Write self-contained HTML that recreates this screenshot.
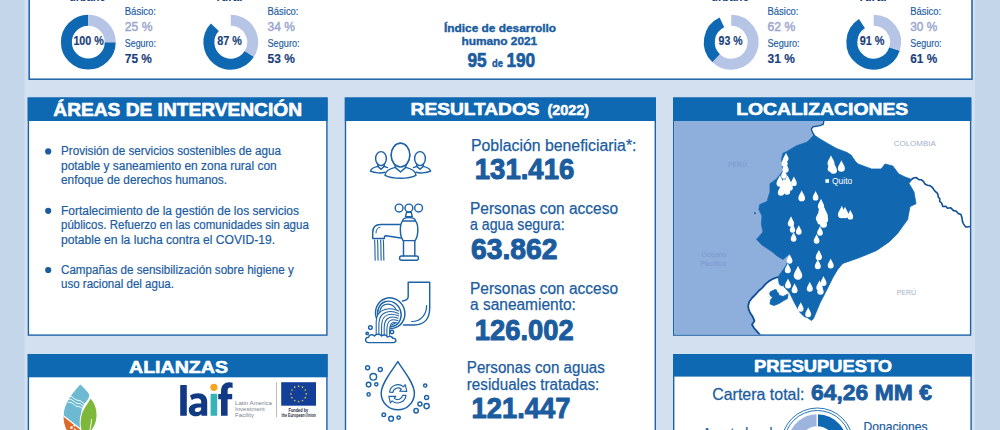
<!DOCTYPE html>
<html lang="es"><head><meta charset="utf-8"><title>Ecuador</title>
<style>
html,body{margin:0;padding:0;background:#c4d7ea;}
body{width:1000px;height:430px;overflow:hidden;font-family:"Liberation Sans",sans-serif;}
svg{display:block}
</style></head><body>
<svg width="1000" height="430" viewBox="0 0 1000 430">
<rect x="0" y="0" width="1000" height="430" fill="#c4d7ea"/>
<rect x="24.5" y="0" width="950.5" height="430" fill="#d2e0f0"/>
<rect x="29.2" y="-10" width="942.8" height="89.2" fill="#fff" stroke="#1c62a8" stroke-width="1.5"/>
<path d="M110.20,42.20 A21.9,21.9 0 1 1 88.30,20.30" fill="none" stroke="#0f68b2" stroke-width="11.0"/>
<path d="M88.30,20.30 A21.9,21.9 0 0 1 110.20,42.20" fill="none" stroke="#b6c4e6" stroke-width="11.0"/>
<text x="73.4" y="45.1" font-size="12" font-weight="bold" fill="#1b3f7c" font-family="'Liberation Sans', sans-serif" textLength="30.5" lengthAdjust="spacingAndGlyphs" stroke="#1b3f7c" stroke-width="0.15" stroke-linejoin="round">100 %</text>
<text x="124.8" y="14.9" font-size="10.3" font-weight="normal" fill="#1b5c9f" font-family="'Liberation Sans', sans-serif" textLength="31.1" lengthAdjust="spacingAndGlyphs" stroke="#1b5c9f" stroke-width="0.16" stroke-linejoin="round">Básico:</text>
<text x="124.8" y="31.0" font-size="12.2" font-weight="normal" fill="#9aa6cf" font-family="'Liberation Sans', sans-serif" textLength="27.6" lengthAdjust="spacingAndGlyphs" stroke="#9aa6cf" stroke-width="0.45" stroke-linejoin="round">25 %</text>
<text x="124.8" y="46.6" font-size="10.3" font-weight="normal" fill="#1b5c9f" font-family="'Liberation Sans', sans-serif" textLength="31.1" lengthAdjust="spacingAndGlyphs" stroke="#1b5c9f" stroke-width="0.16" stroke-linejoin="round">Seguro:</text>
<text x="124.8" y="62.9" font-size="12.2" font-weight="bold" fill="#1b3f7c" font-family="'Liberation Sans', sans-serif" textLength="27.1" lengthAdjust="spacingAndGlyphs" stroke="#1b3f7c" stroke-width="0.15" stroke-linejoin="round">75 %</text>
<path d="M249.29,53.93 A21.9,21.9 0 1 1 214.84,27.21" fill="none" stroke="#0f68b2" stroke-width="11.0"/>
<path d="M230.80,20.30 A21.9,21.9 0 0 1 249.29,53.93" fill="none" stroke="#b6c4e6" stroke-width="11.0"/>
<text x="217.2" y="45.1" font-size="12" font-weight="bold" fill="#1b3f7c" font-family="'Liberation Sans', sans-serif" textLength="24.6" lengthAdjust="spacingAndGlyphs" stroke="#1b3f7c" stroke-width="0.15" stroke-linejoin="round">87 %</text>
<text x="267.5" y="14.9" font-size="10.3" font-weight="normal" fill="#1b5c9f" font-family="'Liberation Sans', sans-serif" textLength="31.0" lengthAdjust="spacingAndGlyphs" stroke="#1b5c9f" stroke-width="0.16" stroke-linejoin="round">Básico:</text>
<text x="267.5" y="31.0" font-size="12.2" font-weight="normal" fill="#9aa6cf" font-family="'Liberation Sans', sans-serif" textLength="27.3" lengthAdjust="spacingAndGlyphs" stroke="#9aa6cf" stroke-width="0.45" stroke-linejoin="round">34 %</text>
<text x="267.5" y="46.6" font-size="10.3" font-weight="normal" fill="#1b5c9f" font-family="'Liberation Sans', sans-serif" textLength="32.1" lengthAdjust="spacingAndGlyphs" stroke="#1b5c9f" stroke-width="0.16" stroke-linejoin="round">Seguro:</text>
<text x="267.5" y="62.9" font-size="12.2" font-weight="bold" fill="#1b3f7c" font-family="'Liberation Sans', sans-serif" textLength="27.3" lengthAdjust="spacingAndGlyphs" stroke="#1b3f7c" stroke-width="0.15" stroke-linejoin="round">53 %</text>
<path d="M716.21,58.16 A21.9,21.9 0 0 1 721.88,22.38" fill="none" stroke="#0f68b2" stroke-width="11.0"/>
<path d="M731.20,20.30 A21.9,21.9 0 1 1 716.21,58.16" fill="none" stroke="#b6c4e6" stroke-width="11.0"/>
<text x="718.5" y="45.1" font-size="12" font-weight="bold" fill="#1b3f7c" font-family="'Liberation Sans', sans-serif" textLength="24.1" lengthAdjust="spacingAndGlyphs" stroke="#1b3f7c" stroke-width="0.15" stroke-linejoin="round">93 %</text>
<text x="767.5" y="14.9" font-size="10.3" font-weight="normal" fill="#1b5c9f" font-family="'Liberation Sans', sans-serif" textLength="31.0" lengthAdjust="spacingAndGlyphs" stroke="#1b5c9f" stroke-width="0.16" stroke-linejoin="round">Básico:</text>
<text x="767.5" y="31.0" font-size="12.2" font-weight="normal" fill="#9aa6cf" font-family="'Liberation Sans', sans-serif" textLength="27.7" lengthAdjust="spacingAndGlyphs" stroke="#9aa6cf" stroke-width="0.45" stroke-linejoin="round">62 %</text>
<text x="767.5" y="46.6" font-size="10.3" font-weight="normal" fill="#1b5c9f" font-family="'Liberation Sans', sans-serif" textLength="32.1" lengthAdjust="spacingAndGlyphs" stroke="#1b5c9f" stroke-width="0.16" stroke-linejoin="round">Seguro:</text>
<text x="767.5" y="62.9" font-size="12.2" font-weight="bold" fill="#1b3f7c" font-family="'Liberation Sans', sans-serif" textLength="27.3" lengthAdjust="spacingAndGlyphs" stroke="#1b3f7c" stroke-width="0.15" stroke-linejoin="round">31 %</text>
<path d="M894.53,48.97 A21.9,21.9 0 1 1 861.97,23.71" fill="none" stroke="#0f68b2" stroke-width="11.0"/>
<path d="M873.70,20.30 A21.9,21.9 0 0 1 894.53,48.97" fill="none" stroke="#b6c4e6" stroke-width="11.0"/>
<text x="859.7" y="45.1" font-size="12" font-weight="bold" fill="#1b3f7c" font-family="'Liberation Sans', sans-serif" textLength="24.9" lengthAdjust="spacingAndGlyphs" stroke="#1b3f7c" stroke-width="0.15" stroke-linejoin="round">91 %</text>
<text x="910.3" y="14.9" font-size="10.3" font-weight="normal" fill="#1b5c9f" font-family="'Liberation Sans', sans-serif" textLength="30.7" lengthAdjust="spacingAndGlyphs" stroke="#1b5c9f" stroke-width="0.16" stroke-linejoin="round">Básico:</text>
<text x="910.3" y="31.0" font-size="12.2" font-weight="normal" fill="#9aa6cf" font-family="'Liberation Sans', sans-serif" textLength="26.9" lengthAdjust="spacingAndGlyphs" stroke="#9aa6cf" stroke-width="0.45" stroke-linejoin="round">30 %</text>
<text x="910.3" y="46.6" font-size="10.3" font-weight="normal" fill="#1b5c9f" font-family="'Liberation Sans', sans-serif" textLength="31.3" lengthAdjust="spacingAndGlyphs" stroke="#1b5c9f" stroke-width="0.16" stroke-linejoin="round">Seguro:</text>
<text x="910.3" y="62.9" font-size="12.2" font-weight="bold" fill="#1b3f7c" font-family="'Liberation Sans', sans-serif" textLength="26.9" lengthAdjust="spacingAndGlyphs" stroke="#1b3f7c" stroke-width="0.15" stroke-linejoin="round">61 %</text>
<text x="69.0" y="1.3" font-size="12.5" font-weight="bold" fill="#1b3f7c" font-family="'Liberation Sans', sans-serif" textLength="37.0" lengthAdjust="spacingAndGlyphs">urbano</text>
<text x="216.6" y="1.3" font-size="12.5" font-weight="bold" fill="#1b3f7c" font-family="'Liberation Sans', sans-serif" textLength="25.8" lengthAdjust="spacingAndGlyphs">rural</text>
<text x="711.0" y="1.3" font-size="12.5" font-weight="bold" fill="#1b3f7c" font-family="'Liberation Sans', sans-serif" textLength="38.4" lengthAdjust="spacingAndGlyphs">urbano</text>
<text x="859.4" y="1.3" font-size="12.5" font-weight="bold" fill="#1b3f7c" font-family="'Liberation Sans', sans-serif" textLength="27.2" lengthAdjust="spacingAndGlyphs">rural</text>
<text x="444.0" y="32.2" font-size="10.5" font-weight="bold" fill="#1b5c9f" font-family="'Liberation Sans', sans-serif" textLength="112.1" lengthAdjust="spacingAndGlyphs" stroke="#1b5c9f" stroke-width="0.37" stroke-linejoin="round">Índice de desarrollo</text>
<text x="461.4" y="44.5" font-size="10.5" font-weight="bold" fill="#1b5c9f" font-family="'Liberation Sans', sans-serif" textLength="75.8" lengthAdjust="spacingAndGlyphs" stroke="#1b5c9f" stroke-width="0.37" stroke-linejoin="round">humano 2021</text>
<text x="467.4" y="66.5" font-size="19.8" font-weight="bold" fill="#1b5c9f" font-family="'Liberation Sans', sans-serif" textLength="19.2" lengthAdjust="spacingAndGlyphs" stroke="#1b5c9f" stroke-width="0.69" stroke-linejoin="round">95</text>
<text x="492.0" y="66.5" font-size="11" font-weight="bold" fill="#1b5c9f" font-family="'Liberation Sans', sans-serif" textLength="11.0" lengthAdjust="spacingAndGlyphs" stroke="#1b5c9f" stroke-width="0.39" stroke-linejoin="round">de</text>
<text x="506.4" y="66.5" font-size="19.8" font-weight="bold" fill="#1b5c9f" font-family="'Liberation Sans', sans-serif" textLength="28.8" lengthAdjust="spacingAndGlyphs" stroke="#1b5c9f" stroke-width="0.69" stroke-linejoin="round">190</text>
<rect x="28.4" y="98.2" width="298.50000000000006" height="236.9" fill="#fff" stroke="#1c62a8" stroke-width="1.4"/>
<rect x="27.7" y="97.5" width="299.90000000000003" height="23.5" fill="#0f68b2"/>
<rect x="345.5" y="98.2" width="309.8" height="341.1" fill="#fff" stroke="#1c62a8" stroke-width="1.4"/>
<rect x="344.8" y="97.5" width="311.2" height="23.5" fill="#0f68b2"/>
<rect x="673.7" y="98.2" width="296.9" height="236.9" fill="#fff" stroke="#1c62a8" stroke-width="1.4"/>
<rect x="673" y="97.5" width="298.29999999999995" height="23.5" fill="#0f68b2"/>
<rect x="28.4" y="354.7" width="298.50000000000006" height="84.6" fill="#fff" stroke="#1c62a8" stroke-width="1.4"/>
<rect x="27.7" y="354" width="299.90000000000003" height="23.30000000000001" fill="#0f68b2"/>
<rect x="673.7" y="354.7" width="297.4" height="84.6" fill="#fff" stroke="#1c62a8" stroke-width="1.4"/>
<rect x="673" y="354" width="298.79999999999995" height="22.600000000000023" fill="#0f68b2"/>
<text x="53.3" y="115.7" font-size="18.6" font-weight="bold" fill="#fff" font-family="'Liberation Sans', sans-serif" textLength="248.7" lengthAdjust="spacingAndGlyphs" stroke="#fff" stroke-width="0.65" stroke-linejoin="round">ÁREAS DE INTERVENCIÓN</text>
<text x="410.6" y="115.2" font-size="16.5" font-weight="bold" fill="#fff" font-family="'Liberation Sans', sans-serif" textLength="129.0" lengthAdjust="spacingAndGlyphs" stroke="#fff" stroke-width="0.58" stroke-linejoin="round">RESULTADOS</text>
<text x="547.4" y="115.4" font-size="14.6" font-weight="bold" fill="#fff" font-family="'Liberation Sans', sans-serif" textLength="41.6" lengthAdjust="spacingAndGlyphs" stroke="#fff" stroke-width="0.51" stroke-linejoin="round">(2022)</text>
<text x="736.2" y="115.2" font-size="16.5" font-weight="bold" fill="#fff" font-family="'Liberation Sans', sans-serif" textLength="172.1" lengthAdjust="spacingAndGlyphs" stroke="#fff" stroke-width="0.58" stroke-linejoin="round">LOCALIZACIONES</text>
<text x="129.0" y="372.6" font-size="17" font-weight="bold" fill="#fff" font-family="'Liberation Sans', sans-serif" textLength="99.0" lengthAdjust="spacingAndGlyphs" stroke="#fff" stroke-width="0.60" stroke-linejoin="round">ALIANZAS</text>
<text x="754.0" y="372.3" font-size="17" font-weight="bold" fill="#fff" font-family="'Liberation Sans', sans-serif" textLength="138.0" lengthAdjust="spacingAndGlyphs" stroke="#fff" stroke-width="0.60" stroke-linejoin="round">PRESUPUESTO</text>
<text x="61.0" y="155.3" font-size="12.5" font-weight="normal" fill="#1b5c9f" font-family="'Liberation Sans', sans-serif" textLength="220.0" lengthAdjust="spacingAndGlyphs" stroke="#1b5c9f" stroke-width="0.20" stroke-linejoin="round">Provisión de servicios sostenibles de agua</text>
<text x="61.0" y="169.7" font-size="12.5" font-weight="normal" fill="#1b5c9f" font-family="'Liberation Sans', sans-serif" textLength="215.7" lengthAdjust="spacingAndGlyphs" stroke="#1b5c9f" stroke-width="0.20" stroke-linejoin="round">potable y saneamiento en zona rural con</text>
<text x="61.0" y="183.6" font-size="12.5" font-weight="normal" fill="#1b5c9f" font-family="'Liberation Sans', sans-serif" textLength="166.0" lengthAdjust="spacingAndGlyphs" stroke="#1b5c9f" stroke-width="0.20" stroke-linejoin="round">enfoque de derechos humanos.</text>
<text x="61.0" y="214.8" font-size="12.5" font-weight="normal" fill="#1b5c9f" font-family="'Liberation Sans', sans-serif" textLength="238.0" lengthAdjust="spacingAndGlyphs" stroke="#1b5c9f" stroke-width="0.20" stroke-linejoin="round">Fortalecimiento de la gestión de los servicios</text>
<text x="61.0" y="229.1" font-size="12.5" font-weight="normal" fill="#1b5c9f" font-family="'Liberation Sans', sans-serif" textLength="247.8" lengthAdjust="spacingAndGlyphs" stroke="#1b5c9f" stroke-width="0.20" stroke-linejoin="round">públicos. Refuerzo en las comunidades sin agua</text>
<text x="61.0" y="243.5" font-size="12.5" font-weight="normal" fill="#1b5c9f" font-family="'Liberation Sans', sans-serif" textLength="214.0" lengthAdjust="spacingAndGlyphs" stroke="#1b5c9f" stroke-width="0.20" stroke-linejoin="round">potable en la lucha contra el COVID-19.</text>
<text x="61.0" y="274.1" font-size="12.5" font-weight="normal" fill="#1b5c9f" font-family="'Liberation Sans', sans-serif" textLength="232.7" lengthAdjust="spacingAndGlyphs" stroke="#1b5c9f" stroke-width="0.20" stroke-linejoin="round">Campañas de sensibilización sobre higiene y</text>
<text x="61.0" y="288.2" font-size="12.5" font-weight="normal" fill="#1b5c9f" font-family="'Liberation Sans', sans-serif" textLength="113.0" lengthAdjust="spacingAndGlyphs" stroke="#1b5c9f" stroke-width="0.20" stroke-linejoin="round">uso racional del agua.</text>
<circle cx="48.2" cy="151.4" r="3.1" fill="#1b5c9f"/>
<circle cx="48.2" cy="210.8" r="3.1" fill="#1b5c9f"/>
<circle cx="48.2" cy="270.0" r="3.1" fill="#1b5c9f"/>
<text x="471.0" y="151.0" font-size="15.8" font-weight="normal" fill="#1b5c9f" font-family="'Liberation Sans', sans-serif" textLength="165.5" lengthAdjust="spacingAndGlyphs" stroke="#1b5c9f" stroke-width="0.25" stroke-linejoin="round">Población beneficiaria*:</text>
<text x="474.8" y="179.2" font-size="29.4" font-weight="bold" fill="#1b5c9f" font-family="'Liberation Sans', sans-serif" textLength="99.5" lengthAdjust="spacingAndGlyphs" stroke="#1b5c9f" stroke-width="1.03" stroke-linejoin="round">131.416</text>
<text x="470.0" y="213.7" font-size="15.8" font-weight="normal" fill="#1b5c9f" font-family="'Liberation Sans', sans-serif" textLength="148.0" lengthAdjust="spacingAndGlyphs" stroke="#1b5c9f" stroke-width="0.25" stroke-linejoin="round">Personas con acceso</text>
<text x="470.0" y="229.8" font-size="15.8" font-weight="normal" fill="#1b5c9f" font-family="'Liberation Sans', sans-serif" textLength="94.6" lengthAdjust="spacingAndGlyphs" stroke="#1b5c9f" stroke-width="0.25" stroke-linejoin="round">a agua segura:</text>
<text x="471.0" y="259.4" font-size="29.4" font-weight="bold" fill="#1b5c9f" font-family="'Liberation Sans', sans-serif" textLength="86.6" lengthAdjust="spacingAndGlyphs" stroke="#1b5c9f" stroke-width="1.03" stroke-linejoin="round">63.862</text>
<text x="470.0" y="294.0" font-size="15.8" font-weight="normal" fill="#1b5c9f" font-family="'Liberation Sans', sans-serif" textLength="148.0" lengthAdjust="spacingAndGlyphs" stroke="#1b5c9f" stroke-width="0.25" stroke-linejoin="round">Personas con acceso</text>
<text x="470.0" y="309.8" font-size="15.8" font-weight="normal" fill="#1b5c9f" font-family="'Liberation Sans', sans-serif" textLength="105.9" lengthAdjust="spacingAndGlyphs" stroke="#1b5c9f" stroke-width="0.25" stroke-linejoin="round">a saneamiento:</text>
<text x="474.8" y="339.5" font-size="29.4" font-weight="bold" fill="#1b5c9f" font-family="'Liberation Sans', sans-serif" textLength="98.8" lengthAdjust="spacingAndGlyphs" stroke="#1b5c9f" stroke-width="1.03" stroke-linejoin="round">126.002</text>
<text x="466.8" y="372.9" font-size="15.8" font-weight="normal" fill="#1b5c9f" font-family="'Liberation Sans', sans-serif" textLength="138.0" lengthAdjust="spacingAndGlyphs" stroke="#1b5c9f" stroke-width="0.25" stroke-linejoin="round">Personas con aguas</text>
<text x="466.8" y="389.9" font-size="15.8" font-weight="normal" fill="#1b5c9f" font-family="'Liberation Sans', sans-serif" textLength="132.5" lengthAdjust="spacingAndGlyphs" stroke="#1b5c9f" stroke-width="0.25" stroke-linejoin="round">residuales tratadas:</text>
<text x="471.6" y="417.8" font-size="29.4" font-weight="bold" fill="#1b5c9f" font-family="'Liberation Sans', sans-serif" textLength="98.8" lengthAdjust="spacingAndGlyphs" stroke="#1b5c9f" stroke-width="1.03" stroke-linejoin="round">121.447</text>
<g id="icons" fill="none" stroke="#1c62a8" stroke-width="1.45" stroke-linecap="round" stroke-linejoin="round">
<ellipse cx="381.0" cy="158.6" rx="5.4" ry="7"/>
<path d="M377.8,164.6 L377.8,166.4 C373.0,167.5 370.7,169.5 370.4,171.2 C375.0,173.3 382.0,173.3 385.0,172.2"/>
<path d="M377.8,166.4 L381.0,169.2 L384.2,166.4"/>
<path d="M384.2,164.6 L384.2,166.4 L387.5,167.6"/>
<ellipse cx="420.0" cy="158.6" rx="5.4" ry="7"/>
<path d="M423.2,164.6 L423.2,166.4 C428.0,167.5 430.3,169.5 430.6,171.2 C426.0,173.3 419.0,173.3 416.0,172.2"/>
<path d="M416.8,166.4 L420.0,169.2 L423.2,166.4"/>
<path d="M416.8,164.6 L416.8,166.4 L413.5,167.6"/>
<ellipse cx="400.5" cy="155.1" rx="9.3" ry="11.9" fill="#fff"/>
<path d="M395.2,165 L395.2,167.4 C388,169 385.3,172 385,175.4 C392,179.3 409,179.3 416,175.4 C415.7,172 413,169 405.8,167.4 L405.8,165" fill="#fff"/>
<path d="M395.2,167.4 L400.5,172 L405.8,167.4"/>
<ellipse cx="400.5" cy="155.1" rx="9.3" ry="11.9" fill="#fff"/>
<circle cx="399.1" cy="208" r="3.9"/>
<circle cx="408.9" cy="208" r="3.9"/>
<circle cx="418.6" cy="208" r="3.9"/>
<path d="M406.6,212.2 L411.2,212.2 L412.3,216.8 L405.5,216.8 Z" fill="#fff"/>
<path d="M402.7,221 C402.7,218.2 404.5,217.6 408.9,217.6 C413.3,217.6 415.4,218.2 415.4,221"/>
<path d="M402.7,221 C399.5,224 399.5,236 403.2,240.6 L415,240.6 C418.7,236 418.7,224 415.4,221 Z"/>
<path d="M403.5,240.6 L403.5,256 M414.8,240.6 L414.8,256"/>
<rect x="399.6" y="256" width="18.8" height="4.2" rx="2"/>
<path d="M400.3,224.4 L380.5,224.4 C375,224.4 372.7,228 372.7,232.5 L372.7,238.4 L384.4,238.4 L384.4,237 C384.4,236 385,235.7 386,235.7 L400.6,238"/>
<path d="M376,233 C376,229.5 377.5,227.6 380,227.2" stroke-width="1"/>
<path d="M374.6,240 C375.2,247 374.8,254 375.2,260.2 M377.5,240 C378.1,247 377.7,254 378.1,260.2 M380.6,240 C381.2,247 380.8,254 381.2,260.2 M383.3,240 C383.9,247 383.5,254 383.9,260.2" stroke-width="1.1"/>
<path d="M402.5,301 C406.5,300.5 408.2,299.5 408.2,296.5 L408.2,282.2 L429.7,282.2 L429.7,308 C429.7,319 424,325 414,325 L403.5,325"/>
<path d="M426.6,305.5 C426.6,315 420.5,321.5 411.7,321.5" stroke-width="1.2"/>
<g transform="rotate(-20 390.2 313.2)">
<ellipse cx="390.2" cy="313.2" rx="14.6" ry="15.4" fill="#fff"/>
<ellipse cx="389.2" cy="313.6" rx="11.6" ry="12.9"/>
<ellipse cx="388.4" cy="314" rx="9" ry="10.6" stroke-width="1.1"/>
</g>
<path d="M398.6,311 C393,307 377,307 376.2,322 L376.2,335 L389.6,335 L389.6,328 C389.8,324.5 393,322.4 397.6,323 Z" fill="#fff" stroke="none"/>
<path d="M398.6,311.0 C391.6,307.4 376.6,307.0 376.2,321.4 L376.2,335.2" stroke-width="1.05"/>
<path d="M398.4,313.4 C391.8,310.3 379.3,309.9 378.9,323.3 L378.9,335.2" stroke-width="1.05"/>
<path d="M398.2,315.8 C392.0,313.2 382.0,312.8 381.6,325.2 L381.6,335.2" stroke-width="1.05"/>
<path d="M398.0,318.2 C392.2,316.2 384.6,315.8 384.2,327.2 L384.2,335.2" stroke-width="1.05"/>
<path d="M397.8,320.6 C392.4,319.1 387.3,318.7 386.9,329.1 L386.9,335.2" stroke-width="1.05"/>
<path d="M397.6,323.0 C392.6,322.0 390.0,321.6 389.6,331.0 L389.6,335.2" stroke-width="1.05"/>
<path d="M368.5,342.6 C364.6,342.6 364.6,337 368.6,337.2 C369,334.4 373,334 374.5,336 C376,333.6 380.2,333.6 381.5,336 C383.4,334.4 386.6,334.8 387.4,337 C389.4,335.8 392.4,336.4 392.6,338.2 C396.6,337.6 397,342.6 393.4,342.6 Z" fill="#fff"/>
<circle cx="370.4" cy="327.6" r="1.8"/><circle cx="367.2" cy="333.4" r="1.2"/><circle cx="392" cy="332" r="1.7"/>
<path d="M397.8,361.6 C403,370 414.4,383 414.4,393.2 A16.6,16.6 0 1 1 381.2,393.2 C381.2,383 392.6,370 397.8,361.6 Z"/>
<g stroke-width="1.1">
<path d="M389.6,392.2 A8.4,8.4 0 0 1 403.5,386.8 L405.2,384.6 L406.8,391.4 L399.8,391.2 L401.4,389.2 A5.2,5.2 0 0 0 392.9,392.4 Z" fill="#fff"/>
<path d="M406.0,395.4 A8.4,8.4 0 0 1 392.1,400.8 L390.4,403 L388.8,396.2 L395.8,396.4 L394.2,398.4 A5.2,5.2 0 0 0 402.7,395.2 Z" fill="#fff"/>
</g>
<circle cx="367.6" cy="367.7" r="2"/>
<circle cx="380.3" cy="369.5" r="2"/>
<circle cx="373.3" cy="376.8" r="3.3"/>
<circle cx="368.6" cy="384.6" r="2.3"/>
<circle cx="376.3" cy="384.3" r="1.6"/>
<circle cx="368.6" cy="394.4" r="1.6"/>
<circle cx="425.2" cy="385.5" r="1.6"/>
<circle cx="426.6" cy="397.4" r="2"/>
<circle cx="419.9" cy="404" r="2"/>
<circle cx="426.6" cy="406.1" r="2.6"/>
<circle cx="416.1" cy="410.8" r="2.2"/>
<circle cx="383.8" cy="414.8" r="1.8"/>
<circle cx="391.1" cy="418.7" r="2.4"/>
<circle cx="398.6" cy="417.6" r="1.7"/>
</g>
<g id="map">
<clipPath id="mapclip"><rect x="674.4" y="121" width="295.5" height="213.4"/></clipPath>
<g clip-path="url(#mapclip)">
<polygon points="670.0,118.0 824.0,120.0 823.3,124.4 820.0,125.7 813.0,126.8 811.3,129.2 813.0,133.2 814.5,135.7 814.0,135.0 807.3,142.0 796.0,146.0 786.4,151.7 783.0,153.2 781.4,159.6 783.0,170.9 776.5,178.9 770.0,183.7 770.0,191.7 767.0,201.4 759.7,204.6 758.9,209.5 762.0,216.0 761.3,224.0 763.0,232.0 756.5,239.3 762.0,245.0 771.7,251.4 777.4,256.2 783.0,259.5 788.6,254.5 790.0,257.0 786.0,265.5 781.5,272.0 778.0,277.0 778.0,277.0 773.0,278.8 769.0,281.1 765.5,284.2 762.2,287.9 758.6,291.0 755.4,294.7 752.0,298.0 749.4,301.5 748.2,305.5 748.6,309.2 750.2,313.0 752.8,316.8 754.5,321.0 752.0,324.5 754.0,328.0 757.0,331.3 760.5,335.5 763.0,340.0 670.0,340.0" fill="#8eaedc"/>
<polygon points="814.0,135.0 807.3,142.0 796.0,146.0 786.4,151.7 783.0,153.2 781.4,159.6 783.0,170.9 776.5,178.9 770.0,183.7 770.0,191.7 767.0,201.4 759.7,204.6 758.9,209.5 762.0,216.0 761.3,224.0 763.0,232.0 756.5,239.3 762.0,245.0 771.7,251.4 777.4,256.2 783.0,259.5 788.6,254.5 790.0,257.0 786.0,265.5 781.5,272.0 778.0,277.0 779.3,284.5 785.0,287.7 789.8,293.3 794.6,303.0 800.0,312.5 804.0,316.5 807.5,317.7 811.5,320.6 813.5,318.5 815.4,314.0 820.0,303.0 826.7,290.0 833.0,277.3 838.0,269.0 842.8,263.4 858.9,257.8 876.5,250.6 889.4,241.7 897.4,233.7 907.8,219.3 908.0,217.0 910.0,206.6 916.0,203.7 914.0,192.0 909.0,183.4 912.0,179.6 905.0,177.0 898.6,173.8 892.8,166.0 885.0,164.0 881.2,169.0 871.6,169.0 863.5,166.0 858.0,164.0 855.5,161.5 851.0,155.0 847.0,152.5 836.5,148.5 828.0,143.7 820.0,139.0" fill="#1167b0" stroke="#1167b0" stroke-width="0.8" stroke-linejoin="round"/>
<polygon points="770.0,292.0 775.0,289.5 779.0,291.0 778.5,295.0 783.0,296.5 788.0,294.0 787.5,298.5 783.0,301.0 779.0,303.5 774.0,305.5 770.0,304.0 770.5,300.0 772.5,297.5 769.8,295.0" fill="#1167b0" stroke="#1167b0" stroke-width="0.8" stroke-linejoin="round"/>
<polyline points="824.0,120.0 823.3,124.4 820.0,125.7 813.0,126.8 811.3,129.2 813.0,133.2 814.5,135.7" fill="none" stroke="#0f4f96" stroke-width="1.3"/>
<polyline points="778.0,277.0 773.0,278.8 769.0,281.1 765.5,284.2 762.2,287.9 758.6,291.0 755.4,294.7 752.0,298.0 749.4,301.5 748.2,305.5 748.6,309.2 750.2,313.0 752.8,316.8 754.5,321.0 752.0,324.5 754.0,328.0 757.0,331.3 760.5,335.5 763.0,340.0" fill="none" stroke="#0f4f96" stroke-width="1.8" stroke-linejoin="round"/>
<polyline points="911.5,179.5 913.5,178.0 916.0,177.5 919.0,179.6 921.5,179.8 923.6,181.6 925.0,184.0 927.4,185.2 930.0,185.6 932.6,187.7 934.5,190.6 937.7,193.6 938.3,197.0 939.9,199.0 939.7,201.3 941.6,203.0 942.8,206.5 946.0,206.4 947.5,208.2 950.5,207.7 953.5,210.6 956.0,211.0 958.2,213.4 961.0,214.6 962.0,218.0 962.4,221.0 963.3,223.6 965.4,226.6 967.2,227.0 972.0,226.2" fill="none" stroke="#0f4f96" stroke-width="1.6" stroke-linejoin="round"/>
<circle cx="754.9" cy="213.2" r="0.9" fill="#0f4f96"/>
<text x="893.8" y="146.3" font-size="7.6" font-weight="normal" fill="#a3afc8" font-family="'Liberation Sans',sans-serif" textLength="41.9" lengthAdjust="spacingAndGlyphs">COLOMBIA</text>
<text x="728" y="167.3" font-size="7.6" font-weight="normal" fill="#7b98cf" font-family="'Liberation Sans',sans-serif" textLength="18.8" lengthAdjust="spacingAndGlyphs">PERÚ</text>
<text x="701.5" y="257.2" font-size="7.2" font-weight="normal" fill="#7b98cf" font-family="'Liberation Sans',sans-serif" textLength="25.1" lengthAdjust="spacingAndGlyphs">Océano</text>
<text x="700.3" y="266.2" font-size="7.2" font-weight="normal" fill="#7b98cf" font-family="'Liberation Sans',sans-serif" textLength="25.7" lengthAdjust="spacingAndGlyphs">Pacífico</text>
<text x="896.7" y="295" font-size="7.6" font-weight="normal" fill="#a3afc8" font-family="'Liberation Sans',sans-serif" textLength="19.3" lengthAdjust="spacingAndGlyphs">PERÚ</text>
<defs><path id="dp" d="M0,-8.6 C0.9,-6.2 2.7,-4.2 2.7,-2.4 A2.7,2.7 0 1 1 -2.7,-2.4 C-2.7,-4.2 -0.9,-6.2 0,-8.6Z"/></defs>
<use href="#dp" transform="translate(784.5,166.4) scale(1.18)" fill="#fff"/>
<use href="#dp" transform="translate(785.5,172.4) scale(1.18)" fill="#fff"/>
<use href="#dp" transform="translate(786,160.9) scale(0.94)" fill="#fff"/>
<use href="#dp" transform="translate(784,178.4) scale(1.06)" fill="#fff"/>
<use href="#dp" transform="translate(780,186.4) scale(1.30)" fill="#fff"/>
<use href="#dp" transform="translate(784,190.4) scale(1.42)" fill="#fff"/>
<use href="#dp" transform="translate(787.5,186.4) scale(1.30)" fill="#fff"/>
<use href="#dp" transform="translate(781,195.4) scale(1.18)" fill="#fff"/>
<use href="#dp" transform="translate(787,194.4) scale(1.18)" fill="#fff"/>
<use href="#dp" transform="translate(790,190.4) scale(1.06)" fill="#fff"/>
<use href="#dp" transform="translate(793.9,185.70000000000002) scale(1.06)" fill="#fff"/>
<use href="#dp" transform="translate(801.7,201.0) scale(1.24)" fill="#fff"/>
<use href="#dp" transform="translate(815.6,200.20000000000002) scale(1.06)" fill="#fff"/>
<use href="#dp" transform="translate(821,209.0) scale(1.18)" fill="#fff"/>
<use href="#dp" transform="translate(822,214.4) scale(1.30)" fill="#fff"/>
<use href="#dp" transform="translate(824,219.4) scale(1.42)" fill="#fff"/>
<use href="#dp" transform="translate(821,224.4) scale(1.42)" fill="#fff"/>
<use href="#dp" transform="translate(823.5,227.4) scale(1.30)" fill="#fff"/>
<use href="#dp" transform="translate(819,221.4) scale(1.18)" fill="#fff"/>
<use href="#dp" transform="translate(825,222.4) scale(1.18)" fill="#fff"/>
<use href="#dp" transform="translate(820,235.4) scale(1.06)" fill="#fff"/>
<use href="#dp" transform="translate(816.6,243.4) scale(1.06)" fill="#fff"/>
<use href="#dp" transform="translate(819,259.4) scale(1.06)" fill="#fff"/>
<use href="#dp" transform="translate(831,166.4) scale(1.30)" fill="#fff"/>
<use href="#dp" transform="translate(833.5,173.4) scale(1.30)" fill="#fff"/>
<use href="#dp" transform="translate(830.5,171.4) scale(1.06)" fill="#fff"/>
<use href="#dp" transform="translate(841.4,171.4) scale(1.30)" fill="#fff"/>
<use href="#dp" transform="translate(841.8,217.9) scale(1.42)" fill="#fff"/>
<use href="#dp" transform="translate(845,217.9) scale(1.30)" fill="#fff"/>
<use href="#dp" transform="translate(850.3,219.20000000000002) scale(1.06)" fill="#fff"/>
<use href="#dp" transform="translate(791,226.4) scale(1.18)" fill="#fff"/>
<use href="#dp" transform="translate(792.5,232.4) scale(1.00)" fill="#fff"/>
<use href="#dp" transform="translate(798.8,234.4) scale(1.06)" fill="#fff"/>
<use href="#dp" transform="translate(793.6,241.4) scale(1.06)" fill="#fff"/>
<use href="#dp" transform="translate(789.6,263.4) scale(1.06)" fill="#fff"/>
<use href="#dp" transform="translate(787.8,272.9) scale(1.12)" fill="#fff"/>
<use href="#dp" transform="translate(798,279.29999999999995) scale(1.59)" fill="#fff"/>
<use href="#dp" transform="translate(818.7,260.0) scale(1.12)" fill="#fff"/>
<use href="#dp" transform="translate(817.8,268.9) scale(1.12)" fill="#fff"/>
<use href="#dp" transform="translate(830.7,268.09999999999997) scale(1.12)" fill="#fff"/>
<use href="#dp" transform="translate(788,288.09999999999997) scale(1.12)" fill="#fff"/>
<use href="#dp" transform="translate(794.6,292.9) scale(1.12)" fill="#fff"/>
<use href="#dp" transform="translate(809.8,291.4) scale(1.12)" fill="#fff"/>
<use href="#dp" transform="translate(823.5,285.7) scale(1.12)" fill="#fff"/>
<use href="#dp" transform="translate(819.5,290.4) scale(1.18)" fill="#fff"/>
<use href="#dp" transform="translate(820.5,294.4) scale(1.18)" fill="#fff"/>
<use href="#dp" transform="translate(800.7,311.4) scale(1.06)" fill="#fff"/>
<use href="#dp" transform="translate(808.2,317.0) scale(1.12)" fill="#fff"/>
<use href="#dp" transform="translate(783,294.4) scale(1.06)" fill="#fff"/>
<use href="#dp" transform="translate(779.5,292.4) scale(0.94)" fill="#fff"/>
<rect x="825.4" y="179.2" width="3.6" height="3.6" fill="#fff"/>
<text x="832" y="184.3" font-size="9.4" font-weight="normal" fill="#fff" font-family="'Liberation Sans',sans-serif" textLength="20.3" lengthAdjust="spacingAndGlyphs">Quito</text>
</g></g>
<g id="logos">
<rect x="180.2" y="385" width="6.6" height="30.8" rx="0.6" fill="#123a84"/>
<path d="M198.2,393.2 C203.6,393.2 207.2,396.2 207.2,401.6 L207.2,415.8 L201.4,415.8 L201.4,414 C200,415.5 198,416.3 195.6,416.3 C191.6,416.3 188.8,413.8 188.8,410 C188.8,405.6 192.4,403.4 198,403.4 L201.2,403.4 L201.2,402 C201.2,399.6 199.8,398.3 197.4,398.3 C195.4,398.3 193.6,399 191.8,400.2 L190,395.6 C192.4,394 195.2,393.2 198.2,393.2 Z M201.2,407.4 L198.8,407.4 C196.2,407.4 194.8,408.3 194.8,409.9 C194.8,411.3 195.9,412.1 197.4,412.1 C199.6,412.1 201.2,410.7 201.2,408.6 Z" fill="#123a84" fill-rule="evenodd"/>
<rect x="210.6" y="393.8" width="6.6" height="22" rx="0.6" fill="#36b3b7"/>
<circle cx="213.9" cy="387.3" r="3.6" fill="#f4a51f"/>
<path d="M221,415.8 L221,399.2 L218.2,399.2 L218.2,394 L221,394 L221,391.4 C221,385.6 224,382.2 229.4,382.2 C230.6,382.2 231.8,382.4 232.6,382.7 L232.6,388 C231.9,387.8 231.2,387.6 230.4,387.6 C228.4,387.6 227.6,388.8 227.6,391.2 L227.6,394 L232.2,394 L232.2,399.2 L227.6,399.2 L227.6,415.8 Z" fill="#123a84"/>
<text x="235" y="405.0" font-size="5.6" font-weight="normal" fill="#7c8390" font-family="'Liberation Sans',sans-serif" textLength="37.0" lengthAdjust="spacingAndGlyphs">Latin America</text>
<text x="235" y="410.8" font-size="5.6" font-weight="normal" fill="#7c8390" font-family="'Liberation Sans',sans-serif" textLength="29.6" lengthAdjust="spacingAndGlyphs">Investment</text>
<text x="235" y="416.6" font-size="5.6" font-weight="normal" fill="#7c8390" font-family="'Liberation Sans',sans-serif" textLength="19.0" lengthAdjust="spacingAndGlyphs">Facility</text>
<rect x="276.1" y="382.2" width="0.7" height="35" fill="#9aa0a8"/>
<rect x="281.2" y="382.2" width="34.8" height="23.5" fill="#143f98"/>
<polygon points="298.60,384.95 298.89,385.80 299.79,385.81 299.08,386.35 299.33,387.21 298.60,386.70 297.87,387.21 298.12,386.35 297.41,385.81 298.31,385.80" fill="#f6d93a"/>
<polygon points="302.45,385.98 302.74,386.83 303.64,386.85 302.93,387.39 303.18,388.24 302.45,387.73 301.72,388.24 301.97,387.39 301.26,386.85 302.16,386.83" fill="#f6d93a"/>
<polygon points="305.27,388.80 305.56,389.65 306.46,389.66 305.74,390.20 306.00,391.06 305.27,390.55 304.53,391.06 304.79,390.20 304.08,389.66 304.97,389.65" fill="#f6d93a"/>
<polygon points="306.30,392.65 306.59,393.50 307.49,393.51 306.78,394.05 307.03,394.91 306.30,394.40 305.57,394.91 305.82,394.05 305.11,393.51 306.01,393.50" fill="#f6d93a"/>
<polygon points="305.27,396.50 305.56,397.35 306.46,397.36 305.74,397.90 306.00,398.76 305.27,398.25 304.53,398.76 304.79,397.90 304.08,397.36 304.97,397.35" fill="#f6d93a"/>
<polygon points="302.45,399.32 302.74,400.16 303.64,400.18 302.93,400.72 303.18,401.58 302.45,401.07 301.72,401.58 301.97,400.72 301.26,400.18 302.16,400.16" fill="#f6d93a"/>
<polygon points="298.60,400.35 298.89,401.20 299.79,401.21 299.08,401.75 299.33,402.61 298.60,402.10 297.87,402.61 298.12,401.75 297.41,401.21 298.31,401.20" fill="#f6d93a"/>
<polygon points="294.75,399.32 295.04,400.16 295.94,400.18 295.23,400.72 295.48,401.58 294.75,401.07 294.02,401.58 294.27,400.72 293.56,400.18 294.46,400.16" fill="#f6d93a"/>
<polygon points="291.93,396.50 292.23,397.35 293.12,397.36 292.41,397.90 292.67,398.76 291.93,398.25 291.20,398.76 291.46,397.90 290.74,397.36 291.64,397.35" fill="#f6d93a"/>
<polygon points="290.90,392.65 291.19,393.50 292.09,393.51 291.38,394.05 291.63,394.91 290.90,394.40 290.17,394.91 290.42,394.05 289.71,393.51 290.61,393.50" fill="#f6d93a"/>
<polygon points="291.93,388.80 292.23,389.65 293.12,389.66 292.41,390.20 292.67,391.06 291.93,390.55 291.20,391.06 291.46,390.20 290.74,389.66 291.64,389.65" fill="#f6d93a"/>
<polygon points="294.75,385.98 295.04,386.83 295.94,386.85 295.23,387.39 295.48,388.24 294.75,387.73 294.02,388.24 294.27,387.39 293.56,386.85 294.46,386.83" fill="#f6d93a"/>
<text x="288.6" y="411.9" font-size="4.8" font-weight="bold" fill="#222c3c" font-family="'Liberation Sans',sans-serif" textLength="19.6" lengthAdjust="spacingAndGlyphs">Funded by</text>
<text x="281.6" y="416.8" font-size="4.8" font-weight="bold" fill="#222c3c" font-family="'Liberation Sans',sans-serif" textLength="34.2" lengthAdjust="spacingAndGlyphs">the European Union</text>
<clipPath id="lgclip"><rect x="55" y="378" width="60" height="52"/></clipPath>
<g clip-path="url(#lgclip)">
<path d="M80.3,384.4 C74,391 63.6,403 63.6,416 C63.6,428 70,438 80,442 L84,420 C80,414 81,408 85.5,402.6 C88,399.6 89.6,397 89.2,394.6 C87,390.6 83.6,387.2 80.3,384.4 Z" fill="#6cb9d1"/>
<path d="M63.7,416.2 C63.4,428 70,438 80,442 L86,432 C78,428 70,421 63.7,416.2 Z" fill="#e2682a"/>
<path d="M63.2,415.6 C70,421 78,428 86,432.6" fill="none" stroke="#fff" stroke-width="1.3"/>
<path d="M68.2,396.4 C72,394.6 74.5,400.6 78.5,400.4 C81.5,400.2 82.5,403.6 86.2,404.6" fill="none" stroke="#fff" stroke-width="1.0"/>
<path d="M68.2,399.5 C72,397.70000000000005 74.5,403.70000000000005 78.5,403.5 C81.5,403.3 82.5,406.70000000000005 86.2,407.70000000000005" fill="none" stroke="#fff" stroke-width="1.0"/>
<path d="M68.2,402.59999999999997 C72,400.8 74.5,406.8 78.5,406.59999999999997 C81.5,406.4 82.5,409.8 86.2,410.8" fill="none" stroke="#fff" stroke-width="1.0"/>
<path d="M90.6,397.6 C95.4,403 97.6,409.6 97,417 C96.2,426 91,433 84,436 C79.8,430 79.2,421 81.6,413.4 C83.6,407.4 88,402.6 90.6,397.6 Z" fill="#7db83a" stroke="#fff" stroke-width="1.1"/>
<path d="M91.6,419 C91,426 90,431 88,436" fill="none" stroke="#fff" stroke-width="0.9"/>
<circle cx="71.5" cy="427.6" r="1.3" fill="#fff"/><circle cx="74.2" cy="425.6" r="0.9" fill="#fff"/><circle cx="74.8" cy="429.4" r="0.9" fill="#fff"/>
</g>
</g>
<text x="712.2" y="400.2" font-size="16.5" font-weight="normal" fill="#1b5c9f" font-family="'Liberation Sans', sans-serif" textLength="92.3" lengthAdjust="spacingAndGlyphs" stroke="#1b5c9f" stroke-width="0.26" stroke-linejoin="round">Cartera total:</text>
<text x="811.0" y="400.3" font-size="22.6" font-weight="bold" fill="#1b5c9f" font-family="'Liberation Sans', sans-serif" textLength="121.0" lengthAdjust="spacingAndGlyphs" stroke="#1b5c9f" stroke-width="0.79" stroke-linejoin="round">64,26 MM €</text>
<text x="702.4" y="437.5" font-size="15" font-weight="normal" fill="#1b5c9f" font-family="'Liberation Sans', sans-serif" textLength="70.0" lengthAdjust="spacingAndGlyphs" stroke="#1b5c9f" stroke-width="0.24" stroke-linejoin="round">Aporte local</text>
<text x="863.5" y="430.8" font-size="13" font-weight="normal" fill="#1b5c9f" font-family="'Liberation Sans', sans-serif" textLength="64.0" lengthAdjust="spacingAndGlyphs" stroke="#1b5c9f" stroke-width="0.21" stroke-linejoin="round">Donaciones</text>
<circle cx="817.3" cy="443.8" r="35.8" fill="none" stroke="#0f68b2" stroke-width="0.9"/>
<circle cx="817.3" cy="443.8" r="33.3" fill="none" stroke="#0f68b2" stroke-width="0.9"/>
<path d="M817.30,420.20 A23.6,23.6 0 1 1 809.23,465.98" fill="none" stroke="#0f68b2" stroke-width="12"/>
<path d="M808.46,465.68 A23.6,23.6 0 0 1 816.89,420.20" fill="none" stroke="#9db5de" stroke-width="12"/>
<rect x="816.5999999999999" y="413.8" width="1.4" height="14" fill="#fff"/>
</svg>
</body></html>
